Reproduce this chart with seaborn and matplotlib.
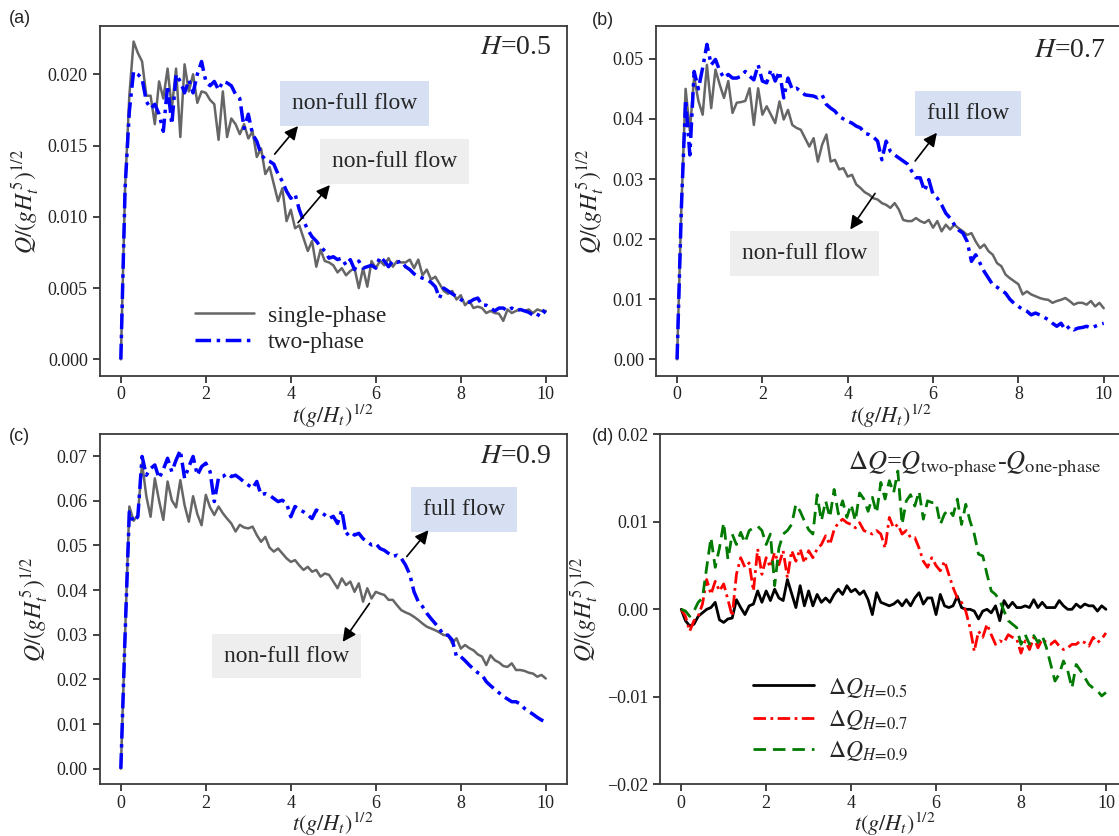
import numpy as np
import pandas as pd
import matplotlib
matplotlib.use("Agg")
import matplotlib.pyplot as plt
import seaborn as sns

# ---------------- data (Q in units of 1e-3) -------------
t = np.round(np.arange(0, 10.001, 0.1), 1)

a_single = [0, 12.0, 18.5, 22.3, 21.5, 20.9, 18.5, 18.5, 16.5, 19.5,
            18.3, 20.4, 17.6, 20.4, 15.6, 20.7, 18.8, 20.0, 18.0, 18.8,
            18.7, 18.2, 17.9, 15.4, 18.8, 15.6, 16.9, 16.5, 15.8, 16.5,
            15.5, 16.0, 14.2, 14.8, 13.0, 13.5, 12.3, 11.1, 12.0, 9.7,
            10.5, 9.2, 9.4, 8.5, 7.6, 8.3, 6.5, 7.7, 6.9, 6.8,
            6.6, 6.1, 6.4, 5.9, 6.2, 6.4, 5.0, 6.4, 5.1, 6.9,
            6.4, 6.9, 6.6, 7.1, 6.5, 6.9, 6.8, 6.8, 7.0, 6.4,
            7.0, 5.9, 6.3, 5.6, 5.8, 5.3, 4.8, 4.6, 4.8, 4.2,
            4.5, 3.8, 4.1, 3.6, 3.7, 3.6, 3.25, 3.4, 3.25, 3.2,
            2.7, 3.5, 3.25, 3.4, 3.5, 3.4, 3.5, 3.25, 3.5, 3.4, 3.4]
a_two = [0, 12.0, 17.4, 20.2, 20.0, 19.7, 18.1, 17.6, 17.9, 17.2,
         16.0, 19.2, 16.5, 20.0, 19.5, 18.7, 19.6, 18.7, 20.0, 20.9,
         19.5, 19.2, 19.5, 18.9, 19.5, 19.4, 19.2, 18.6, 18.3, 16.2,
         17.2, 15.8, 15.3, 14.4, 14.0, 13.9, 13.7, 13.0, 12.5, 11.8,
         11.3, 11.6, 10.5, 9.7, 9.1, 8.6, 8.3, 7.9, 7.6, 7.1,
         7.2, 7.0, 7.1, 6.6, 7.0, 6.3, 6.9, 6.4, 6.5, 6.6,
         6.4, 7.2, 6.9, 6.5, 6.9, 6.8, 6.9, 6.5, 6.3, 6.0,
         5.8, 5.7, 5.6, 5.4, 5.1, 4.3, 5.0, 4.8, 4.6, 4.4,
         4.2, 4.0, 4.0, 4.2, 4.3, 3.8, 3.8, 3.6, 3.4, 3.6,
         3.6, 3.4, 3.6, 3.4, 3.5, 3.4, 3.3, 3.1, 3.0, 3.5, 3.25]

b_single = [0, 25.0, 45.0, 38.0, 47.0, 43.0, 40.7, 49.0, 41.8, 48.2,
            45.7, 43.5, 46.3, 41.0, 42.7, 42.8, 43.0, 45.1, 39.0, 45.1,
            40.7, 42.1, 40.7, 39.3, 42.9, 39.9, 41.5, 39.0, 38.5, 38.2,
            36.8, 35.4, 36.8, 32.9, 35.7, 37.4, 32.9, 33.2, 31.6, 31.8,
            30.4, 30.7, 29.1, 28.5, 27.8, 27.4, 26.8, 26.6, 26.0, 25.7,
            25.2, 26.0, 24.9, 23.2, 23.0, 23.0, 23.5, 23.0, 22.7, 23.2,
            21.9, 23.0, 21.3, 22.4, 21.6, 22.4, 21.8, 21.3, 20.7, 21.0,
            19.6, 18.5, 19.1, 18.0, 17.4, 16.0, 15.5, 14.1, 13.5, 13.0,
            12.5, 10.8, 11.3, 10.8, 10.5, 10.2, 10.0, 9.9, 9.4, 9.7,
            9.9, 10.2, 9.7, 9.1, 9.4, 9.4, 9.1, 9.7, 8.8, 9.4, 8.5]
b_two = [0, 25.0, 43.2, 34.0, 47.9, 45.0, 48.5, 52.4, 49.0, 49.9,
         48.0, 46.8, 47.4, 46.8, 46.8, 47.1, 47.9, 47.1, 46.5, 49.0,
         46.3, 46.0, 48.2, 46.3, 47.9, 43.5, 46.8, 44.9, 45.1, 44.6,
         44.0, 43.9, 43.8, 43.5, 44.0, 42.4, 41.8, 41.3, 40.4, 40.0,
         39.6, 39.3, 38.8, 38.5, 37.6, 37.4, 37.0, 36.3, 33.2, 36.3,
         34.6, 34.0, 33.5, 33.0, 32.5, 31.3, 30.2, 30.2, 28.0, 29.9,
         27.4, 26.8, 25.7, 24.3, 23.5, 22.4, 21.5, 21.0, 19.6, 16.3,
         17.4, 16.0, 14.6, 13.5, 12.4, 12.0, 11.5, 11.0, 10.0, 9.3,
         8.8, 8.3, 8.0, 7.4, 7.7, 7.4, 7.0, 6.6, 6.0, 5.5,
         6.0, 4.9, 5.5, 4.9, 5.2, 5.3, 5.5, 5.2, 5.5, 5.8, 6.0]

c_single = [0, 30.0, 58.7, 55.5, 56.8, 68.4, 61.0, 56.4, 65.0, 60.0,
            55.7, 64.3, 60.1, 58.5, 64.6, 59.0, 55.3, 61.0, 57.0, 54.5,
            61.3, 58.5, 56.8, 58.7, 57.2, 56.0, 54.9, 53.1, 54.6, 54.0,
            53.8, 54.2, 52.3, 50.8, 51.9, 49.5, 48.6, 49.3, 48.2, 47.1,
            46.3, 46.7, 45.5, 44.5, 45.2, 44.1, 44.5, 43.0, 43.7, 43.4,
            41.9, 40.4, 42.6, 41.1, 41.9, 39.6, 41.5, 37.4, 40.4, 38.1,
            39.6, 39.2, 38.9, 37.8, 37.8, 36.6, 35.5, 35.0, 34.6, 34.0,
            33.3, 32.5, 31.8, 31.4, 31.0, 30.5, 29.9, 29.9, 28.1, 29.2,
            26.9, 27.7, 27.0, 26.5, 25.6, 25.1, 23.2, 25.4, 24.3, 23.8,
            23.0, 22.8, 23.6, 22.1, 22.1, 21.9, 21.5, 21.3, 20.6, 21.0, 20.2]
c_two = [0, 30.0, 57.5, 55.3, 56.4, 69.9, 65.7, 67.2, 68.0, 65.0,
         67.0, 69.5, 66.5, 69.1, 71.3, 65.0, 67.6, 69.9, 65.7, 67.6,
         68.4, 66.5, 59.8, 65.2, 65.4, 66.1, 65.4, 65.7, 65.0, 64.2,
         63.5, 62.8, 64.3, 61.3, 61.6, 61.2, 60.5, 59.8, 60.1, 59.4,
         56.4, 58.7, 58.0, 57.5, 56.8, 56.0, 57.9, 57.5, 56.8, 56.0,
         56.5, 54.9, 57.9, 52.3, 53.1, 52.3, 52.7, 51.5, 50.8, 50.1,
         50.4, 49.3, 48.9, 48.2, 47.5, 47.8, 47.1, 45.6, 43.5, 39.6,
         37.4, 36.3, 34.8, 33.6, 32.5, 31.3, 29.9, 29.9, 28.8, 25.1,
         25.1, 24.2, 23.2, 22.3, 21.5, 21.0, 19.5, 18.6, 17.8, 17.0,
         16.2, 15.6, 15.0, 15.0, 14.5, 13.5, 12.8, 12.2, 11.5, 10.9, 10.5]

d_h05 = [0, -1.3, -1.9, -1.7, -0.8, -0.4, 0.0, 0.2, 0.8, -1.2,
         -1.5, -1.1, -1.0, 1.1, 0.2, -0.6, 0.4, 0.6, 2.1, 0.8,
         2.1, 1.0, 2.3, 1.3, 1.0, 3.4, 1.8, 0.2, 2.7, 0.4,
         2.1, 0.4, 1.7, 0.8, 1.3, 0.8, 1.7, 2.3, 1.7, 2.7,
         2.0, 2.3, 1.7, 2.1, 1.1, -0.6, 1.9, 0.8, 0.6, 0.4,
         0.6, 1.0, 0.4, 1.1, 0.4, 1.3, 1.9, 0.6, 1.3, 1.3,
         -0.6, 1.7, 0.4, 0.2, 0.4, 1.5, 0.2, 0.0, 0.0, -0.2,
         -1.1, -0.2, 0.0, -0.4, 0.4, -1.3, 1.0, 0.2, 0.8, 0.2,
         0.2, 0.4, 0.2, 1.1, 0.2, 0.8, 0.2, 0.2, 0.2, 1.0,
         0.4, 0.0, 0.0, 0.6, 0.2, 0.6, 0.4, 0.4, -0.2, 0.4, 0.0]
d_h07 = [0, -0.8, -2.5, -1.3, -0.8, 0.6, 3.4, 1.7, 3.2, 2.1,
         2.9, 1.1, -0.8, 4.0, 5.9, 4.8, 5.3, 2.1, 6.9, 4.0,
         5.9, 4.8, 6.5, 5.1, 6.7, 3.6, 6.7, 5.5, 6.9, 5.3,
         6.7, 5.9, 6.9, 7.4, 8.4, 7.4, 9.1, 9.9, 10.3, 9.9,
         9.7, 9.3, 9.9, 9.0, 8.8, 8.6, 9.0, 8.6, 7.0, 10.5,
         9.3, 9.7, 8.6, 9.0, 8.2, 8.2, 7.0, 5.5, 4.8, 5.9,
         5.0, 4.4, 5.5, 4.0, 2.5, 1.3, 0.8, -0.2, -2.1, -4.8,
         -2.5, -3.2, -1.7, -2.9, -4.0, -3.6, -3.8, -2.9, -3.2, -3.4,
         -5.0, -3.6, -4.6, -3.2, -4.4, -3.4, -3.8, -4.0, -3.6, -4.2,
         -4.6, -4.4, -4.0, -4.0, -3.6, -3.8, -4.2, -3.2, -3.8, -3.4, -2.7]
d_h09 = [0, -0.2, -0.8, -0.2, 0.8, 1.3, 4.8, 8.2, 4.8, 7.0,
         9.9, 5.7, 8.6, 7.4, 8.8, 7.6, 9.0, 9.3, 9.5, 9.0,
         7.4, 8.6, 2.7, 7.0, 8.6, 9.0, 9.7, 12.0, 11.2, 10.1,
         9.1, 8.6, 13.1, 10.1, 12.4, 10.5, 13.7, 10.9, 12.4, 10.5,
         12.0, 10.1, 13.3, 12.6, 11.2, 12.8, 11.0, 14.5, 12.6, 14.7,
         13.3, 15.8, 9.7, 12.4, 13.1, 11.8, 13.5, 10.3, 12.4, 12.2,
         12.2, 9.7, 10.9, 11.4, 10.7, 12.6, 9.7, 12.0, 10.1, 8.6,
         6.3, 6.1, 4.0, 2.1, 1.7, 1.0, -0.2, -1.3, -1.7, -2.1,
         -4.0, -2.9, -4.0, -3.0, -3.8, -3.0, -4.4, -6.3, -8.2, -7.4,
         -5.9, -7.0, -9.0, -6.3, -7.0, -7.8, -8.6, -9.0, -9.3, -9.9, -9.5]

yticks_a = [0.000, 0.005, 0.010, 0.015, 0.020]
yticks_b = [0.00, 0.01, 0.02, 0.03, 0.04, 0.05]
yticks_c = [0.00, 0.01, 0.02, 0.03, 0.04, 0.05, 0.06, 0.07]
yticks_d = [-0.02, -0.01, 0.00, 0.01, 0.02]
xticks = [0, 2, 4, 6, 8, 10]

# ---------------- style -------------
sns.set_style("ticks")
plt.rcParams["font.family"] = ["Liberation Serif", "DejaVu Serif"]
plt.rcParams["mathtext.fontset"] = "stix"
plt.rcParams["axes.edgecolor"] = "#3a3a3a"
plt.rcParams["axes.linewidth"] = 1.3

SERIF = ["Liberation Serif", "DejaVu Serif"]
GRAY = "#666666"
BLUE = "#0000ff"
BOXBLUE = "#d6e0f2"
BOXGRAY = "#eeeeee"
DASHDOT = (0, (4.5, 1.6, 1.0, 1.6))

fig = plt.figure(figsize=(11.19, 8.36), dpi=100)
ax_a = fig.add_axes([0.089, 0.5502, 0.4177, 0.4187])
ax_b = fig.add_axes([0.586, 0.5502, 0.4194, 0.4187])
ax_c = fig.add_axes([0.089, 0.0618, 0.4177, 0.4187])
ax_d = fig.add_axes([0.5898, 0.0618, 0.4194, 0.4187])

ylabel = r"$Q/(gH_t^{\,5})^{1/2}$"
xlabel = r"$t(g/H_t)^{1/2}$"


def q(vals):
    return np.array(vals) * 1e-3


def pair_plot(ax, single, two, ylim, yticks, fmt):
    sns.lineplot(x=t, y=q(single), ax=ax, color=GRAY, lw=1.8, label="single-phase")
    sns.lineplot(x=t, y=q(two), ax=ax, color=BLUE, lw=2.5, linestyle=DASHDOT, label="two-phase")
    ax.set_xlim(-0.5, 10.5)
    ax.set_ylim(*ylim)
    ax.set_xticks(xticks)
    ax.set_yticks(yticks)
    ax.set_yticklabels([fmt.format(v) for v in yticks])
    ax.get_legend().remove()


def style_axes(ax):
    ax.tick_params(labelsize=13, length=5, width=1.2, direction="out", colors="#222222")
    ax.tick_params(axis="x", pad=2.5)
    ax.set_xlabel(xlabel, fontsize=16, labelpad=-1)
    ax.set_ylabel(ylabel, fontsize=17)
    for s in ax.spines.values():
        s.set_visible(True)


def box(ax, x, y, text, fc):
    ax.text(x, y, text, fontsize=17, family=SERIF, ha="center", va="center",
            bbox=dict(boxstyle="square,pad=0.5", fc=fc, ec="none"), zorder=5)


def arrow(ax, tail, head):
    ax.annotate("", xy=head, xytext=tail,
                arrowprops=dict(arrowstyle="-|>", color="black", lw=1.2,
                                mutation_scale=20, shrinkA=0, shrinkB=0), zorder=6)


# (a)
pair_plot(ax_a, a_single, a_two, (-0.00117, 0.02339), yticks_a, "{:.3f}")
style_axes(ax_a)
ax_a.text(0.967, 0.94, r"$H$=0.5", transform=ax_a.transAxes, ha="right", va="center", fontsize=20)
box(ax_a, 5.5, 0.01796, "non-full flow", BOXBLUE)
box(ax_a, 6.45, 0.01387, "non-full flow", BOXGRAY)
arrow(ax_a, (3.62, 0.0144), (4.17, 0.01637))
arrow(ax_a, (4.17, 0.00959), (4.92, 0.01223))
ax_a.legend(loc="lower left", bbox_to_anchor=(0.204, 0.065), frameon=False, fontsize=17,
            handlelength=2.5, handletextpad=0.6, labelspacing=0.22, borderpad=0, borderaxespad=0)

# (b)
pair_plot(ax_b, b_single, b_two, (-0.00278, 0.05546), yticks_b, "{:.2f}")
style_axes(ax_b)
ax_b.text(0.96, 0.93, r"$H$=0.7", transform=ax_b.transAxes, ha="right", va="center", fontsize=20)
box(ax_b, 6.82, 0.0409, "full flow", BOXBLUE)
box(ax_b, 2.98, 0.0176, "non-full flow", BOXGRAY)
arrow(ax_b, (5.58, 0.0330), (6.09, 0.0377))
arrow(ax_b, (4.64, 0.0276), (4.06, 0.0216))

# (c)
pair_plot(ax_c, c_single, c_two, (-0.00349, 0.07486), yticks_c, "{:.2f}")
style_axes(ax_c)
ax_c.text(0.967, 0.936, r"$H$=0.9", transform=ax_c.transAxes, ha="right", va="center", fontsize=20)
box(ax_c, 8.08, 0.0580, "full flow", BOXBLUE)
box(ax_c, 3.89, 0.0252, "non-full flow", BOXGRAY)
arrow(ax_c, (6.73, 0.0475), (7.24, 0.0534))
arrow(ax_c, (5.85, 0.0370), (5.22, 0.0284))

# (d)
sns.lineplot(x=t, y=q(d_h05), ax=ax_d, color="black", lw=2.0, label=r"$\Delta Q_{H\!=\!0.5}$")
sns.lineplot(x=t, y=q(d_h07), ax=ax_d, color="red", lw=2.0, linestyle=DASHDOT, label=r"$\Delta Q_{H\!=\!0.7}$")
sns.lineplot(x=t, y=q(d_h09), ax=ax_d, color="#007a00", lw=2.0, linestyle=(0, (4.5, 2.5)), label=r"$\Delta Q_{H\!=\!0.9}$")
ax_d.set_xlim(-0.5, 10.55)
ax_d.set_ylim(-0.02, 0.02)
ax_d.set_xticks(xticks)
ax_d.set_yticks(yticks_d)
ax_d.set_yticklabels(["\u22120.02", "\u22120.01", "0.00", "0.01", "0.02"])
style_axes(ax_d)
ax_d.text(0.94, 0.915, "$\\Delta Q$=$Q_{\\mathrm{two\u2010phase}}$-$Q_{\\mathrm{one\u2010phase}}$",
          transform=ax_d.transAxes, ha="right", va="center", fontsize=19)
ax_d.legend(loc="lower left", bbox_to_anchor=(0.198, 0.06), frameon=False, fontsize=17,
            handlelength=2.6, handletextpad=0.6, labelspacing=0.35, borderpad=0, borderaxespad=0)

# panel letters
for x, y, s in [(0.008, 0.978, "(a)"), (0.529, 0.975, "(b)"), (0.008, 0.478, "(c)"), (0.529, 0.478, "(d)")]:
    fig.text(x, y, s, fontsize=13, family=["Liberation Sans", "DejaVu Sans"], va="center", ha="left")

fig.savefig("out.png", dpi=100)
